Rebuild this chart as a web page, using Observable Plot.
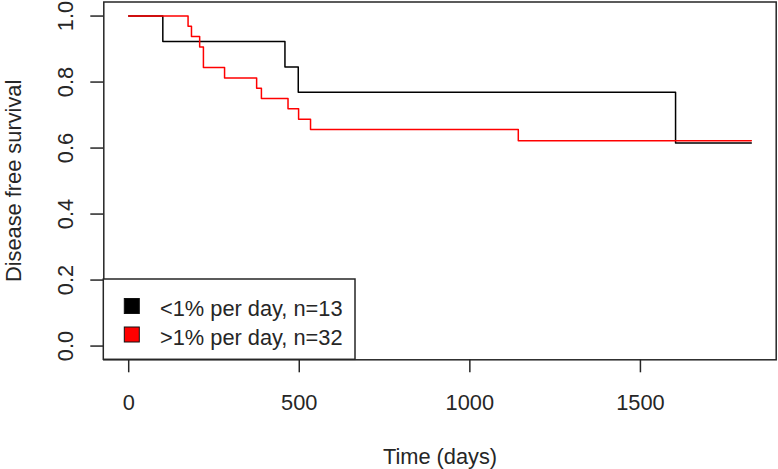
<!DOCTYPE html>
<html>
<head>
<meta charset="utf-8">
<script src="https://cdn.jsdelivr.net/npm/d3@7"></script>
<script src="https://cdn.jsdelivr.net/npm/@observablehq/plot@0.6"></script>
<style>
  html, body { margin: 0; padding: 0; background: #fff; }
  #chart svg { display: block; }
</style>
</head>
<body>
<div id="chart"></div>
<script>
// ---- data ----
const seriesNames = ["<1% per day, n=13", ">1% per day, n=32"];
const seriesColors = ["#000000", "#ff0000"];

const lowTime = [0, 100, 458, 497, 1603, 1825];
const lowSurv = [1, 0.923, 0.846, 0.769, 0.615, 0.615];

const highTime = [0, 174, 184, 208, 219, 281, 375, 389, 467, 498, 533, 1142, 1825];
const highSurv = [1, 0.969, 0.938, 0.906, 0.844, 0.8125, 0.781, 0.75, 0.719, 0.6875, 0.656, 0.622, 0.622];

const xTicks = [0, 500, 1000, 1500];
const yTicks = [0, 0.2, 0.4, 0.6, 0.8, 1.0];
const yTickLabels = ["0.0", "0.2", "0.4", "0.6", "0.8", "1.0"];
const xLabel = "Time (days)";
const yLabel = "Disease free survival";

// ---- build table ----
const rows = [];
lowTime.forEach((t, i) => rows.push({group: seriesNames[0], time: t, surv: lowSurv[i]}));
highTime.forEach((t, i) => rows.push({group: seriesNames[1], time: t, surv: highSurv[i]}));

const FONT = "'Liberation Sans', Arial, Helvetica, sans-serif";
const FS = 21.8;
const INK = "#262626";

const plot = Plot.plot({
  width: 778,
  height: 469,
  marginLeft: 103.3,
  marginRight: 2.3,
  marginTop: 1.5,
  marginBottom: 109.7,
  style: {fontFamily: FONT, fontSize: FS + "px", color: INK, background: "#fff"},
  x: {domain: [-73, 1898]},
  y: {domain: [-0.0416, 1.0426]},
  color: {domain: seriesNames, range: seriesColors},
  marks: [
    Plot.line(rows, {x: "time", y: "surv", z: "group", stroke: "group", curve: "step-after", strokeWidth: 1.5}),
    Plot.axisX({ticks: xTicks, tickSize: 13, tickFormat: () => "", stroke: INK, strokeWidth: 1.5, label: null}),
    Plot.axisY({ticks: yTicks, tickSize: 13, tickFormat: () => "", stroke: INK, strokeWidth: 1.5, label: null}),
    Plot.text(xTicks, {x: d => d, frameAnchor: "bottom", dy: 50, lineAnchor: "bottom", text: d => String(d), fill: INK, fontSize: FS}),
    Plot.text(yTicks, {y: d => d, frameAnchor: "left", dx: -31.3, rotate: -90, lineAnchor: "bottom", textAnchor: "middle", text: (d, i) => yTickLabels[i], fill: INK, fontSize: FS}),
    Plot.text([xLabel], {frameAnchor: "bottom", dy: 104, lineAnchor: "bottom", text: d => d, fill: INK, fontSize: FS}),
    Plot.text([yLabel], {frameAnchor: "left", dx: -83, rotate: -90, lineAnchor: "bottom", textAnchor: "middle", text: d => d, fill: INK, fontSize: FS}),
    Plot.frame({stroke: INK, strokeWidth: 1.5})
  ]
});

// ---- legend (bottom-left, R style) ----
const xr = plot.scale("x").range;
const yr = plot.scale("y").range;
const left = Math.min(xr[0], xr[1]);
const bottom = Math.max(yr[0], yr[1]);
const svg = d3.select(plot);
const g = svg.append("g")
  .attr("font-family", FONT)
  .attr("font-size", FS)
  .attr("text-anchor", "start");
g.append("rect")
  .attr("x", left).attr("y", bottom - 80.3)
  .attr("width", 251.7).attr("height", 80.3)
  .attr("fill", "#fff").attr("stroke", INK).attr("stroke-width", 1.5);
seriesNames.forEach((name, i) => {
  const cy = bottom - 53.3 + i * 28.5;
  g.append("rect")
    .attr("x", left + 21).attr("y", cy - 7.5)
    .attr("width", 15).attr("height", 15)
    .attr("fill", seriesColors[i]).attr("stroke", "#111").attr("stroke-width", 1);
  g.append("text")
    .attr("x", left + 56.7).attr("y", bottom - 43.6 + i * 28.8)
    .attr("text-anchor", "start")
    .attr("fill", INK)
    .text(name);
});

document.getElementById("chart").appendChild(plot);
</script>
</body>
</html>
